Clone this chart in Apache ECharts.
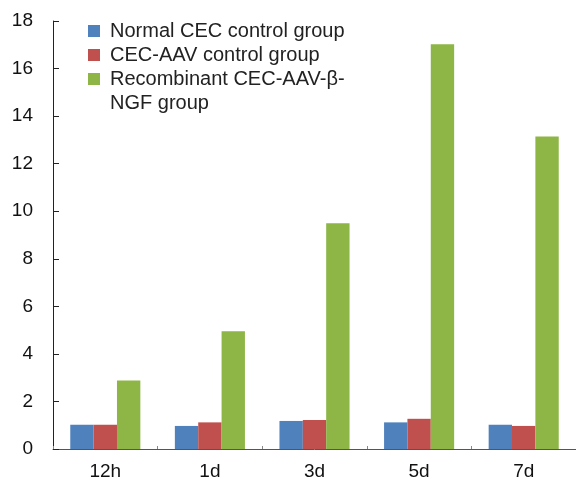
<!DOCTYPE html>
<html>
<head>
<meta charset="utf-8">
<script src="https://cdn.jsdelivr.net/npm/echarts@6/dist/echarts.min.js"></script>
<style>html,body{margin:0;padding:0;background:#fff;}#chart{width:576px;height:481px;}</style>
</head>
<body>
<div id="chart"></div>
<script>
const categories = ['12h', '1d', '3d', '5d', '7d'];
const seriesNames = ['Normal CEC control group', 'CEC-AAV control group', 'Recombinant CEC-AAV-β-NGF group'];
const legendFirstLines = ['Normal CEC control group', 'CEC-AAV control group', 'Recombinant CEC-AAV-β-'];
const legendContinuation = 'NGF group';
const normalCEC = [1.02, 0.97, 1.18, 1.12, 1.02];
const cecAAV = [1.02, 1.12, 1.22, 1.27, 0.97];
const recombinant = [2.88, 4.95, 9.49, 17.02, 13.14];
const yTicks = [0, 2, 4, 6, 8, 10, 12, 14, 16, 18];
const colors = ['#4F81BD', '#C0504D', '#8DB646'];

const chart = echarts.init(document.getElementById('chart'));
const font = 'Liberation Sans, Arial, sans-serif';
chart.setOption({
  animation: false,
  color: colors,
  grid: { left: 53, right: -2, top: 21, bottom: 30.5, containLabel: false },
  legend: {
    orient: 'vertical',
    left: 88,
    top: 19,
    padding: 0,
    itemWidth: 12,
    itemHeight: 12,
    itemGap: 0,
    icon: 'rect',
    textStyle: { fontFamily: font, fontSize: 20, color: '#222', lineHeight: 24, padding: [0, 0, 0, 5] },
    formatter: function (name) {
      return legendFirstLines[seriesNames.indexOf(name)];
    },
    data: seriesNames
  },
  graphic: [{
    type: 'text',
    left: 110,
    top: 91,
    style: { text: legendContinuation, font: '20px ' + font, fill: '#222', lineHeight: 24 }
  }],
  xAxis: {
    type: 'category',
    data: categories,
    axisLine: { lineStyle: { color: '#555', width: 1 } },
    axisTick: { show: true, alignWithLabel: false, inside: true, length: 3, lineStyle: { color: '#888' } },
    axisLabel: { fontFamily: font, fontSize: 19, color: '#111', margin: 13 }
  },
  yAxis: {
    type: 'value',
    min: 0,
    max: 18,
    interval: 2,
    splitLine: { show: false },
    axisLine: { show: true, lineStyle: { color: '#222', width: 1 } },
    axisTick: { show: true, inside: true, length: 6, lineStyle: { color: '#222' } },
    axisLabel: {
      fontFamily: font, fontSize: 19, color: '#111', margin: 20,
      formatter: function (v) { return yTicks.indexOf(v) >= 0 ? String(v) : ''; }
    }
  },
  series: [
    { name: seriesNames[0], type: 'bar', data: normalCEC, barGap: '0%', barCategoryGap: '33%' },
    { name: seriesNames[1], type: 'bar', data: cecAAV, barGap: '0%', barCategoryGap: '33%' },
    { name: seriesNames[2], type: 'bar', data: recombinant, barGap: '0%', barCategoryGap: '33%' }
  ]
});
</script>
</body>
</html>
